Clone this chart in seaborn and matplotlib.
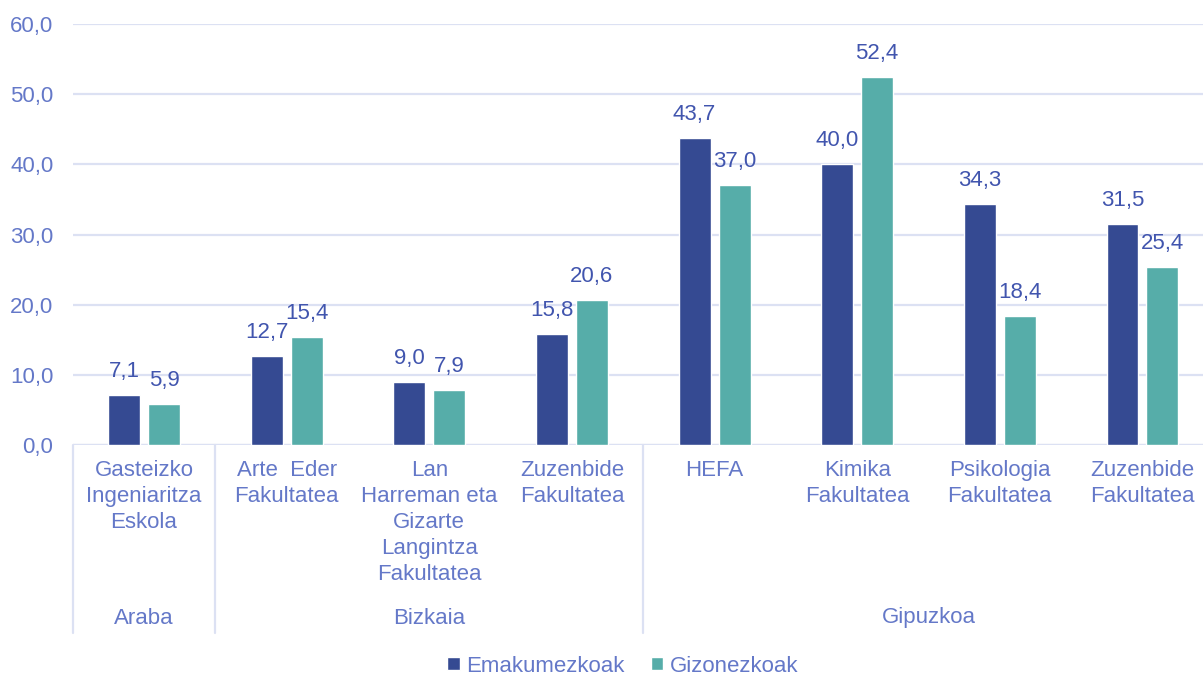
import matplotlib
matplotlib.use("Agg")
import matplotlib.pyplot as plt
import matplotlib.transforms as mtransforms
from matplotlib.patches import Patch
import seaborn as sns
import pandas as pd

# ---- data ----
groups = ["Araba", "Bizkaia", "Bizkaia", "Bizkaia",
          "Gipuzkoa", "Gipuzkoa", "Gipuzkoa", "Gipuzkoa"]
categories = ["Gasteizko\nIngeniaritza\nEskola",
              "Arte  Eder\nFakultatea",
              "Lan\nHarreman eta\nGizarte\nLangintza\nFakultatea",
              "Zuzenbide\nFakultatea",
              "HEFA",
              "Kimika\nFakultatea",
              "Psikologia\nFakultatea",
              "Zuzenbide\nFakultatea"]
emakumezkoak = [7.1, 12.7, 9.0, 15.8, 43.7, 40.0, 34.3, 31.5]
gizonezkoak = [5.9, 15.4, 7.9, 20.6, 37.0, 52.4, 18.4, 25.4]
series_names = ["Emakumezkoak", "Gizonezkoak"]
yticks = [0, 10, 20, 30, 40, 50, 60]

# ---- style ----
DARK = "#354A92"
TEAL = "#56ADA9"
TICK_C = "#6478C8"
LABEL_C = "#4155AE"
GRID_C = "#DCE1F3"
FS = 16

sns.set_theme(style="white")
plt.rcParams["font.family"] = ["Liberation Sans", "DejaVu Sans"]

keys = [f"{g}|{i}" for i, g in enumerate(groups)]
df = pd.DataFrame({
    "key": keys * 2,
    "value": emakumezkoak + gizonezkoak,
    "series": [series_names[0]] * len(keys) + [series_names[1]] * len(keys),
})

W, H = 1203, 677
fig = plt.figure(figsize=(W / 100, H / 100), dpi=100)
ax_left, ax_right, ax_top, ax_bot = 72.7, 1213.8, 24, 445
ax = fig.add_axes([ax_left / W, 1 - ax_bot / H, (ax_right - ax_left) / W, (ax_bot - ax_top) / H])

sns.barplot(data=df, x="key", y="value", hue="series", order=keys,
            hue_order=series_names, palette=[DARK, TEAL], width=0.56, gap=0.2,
            ax=ax, legend=False, saturation=1, errorbar=None)

ax.set_xlim(-0.5, len(keys) - 0.5)
ax.set_ylim(0, 60)
ax.set_yticks(yticks)
ax.set_yticklabels([f"{v:.1f}".replace(".", ",") for v in yticks],
                   color=TICK_C, fontsize=FS)
ax.tick_params(axis="y", length=0, pad=14)
ax.set_xticks([])
ax.set_xlabel("")
ax.set_ylabel("")
for s in ax.spines.values():
    s.set_visible(False)
ax.grid(axis="y", color=GRID_C, linewidth=1.6)
ax.set_axisbelow(True)
ax.axhline(0, color=GRID_C, linewidth=1.6, zorder=0.5)

# data labels
for cont in ax.containers:
    for bar in cont:
        h = bar.get_height()
        ax.annotate(f"{h:.1f}".replace(".", ","),
                    (bar.get_x() + bar.get_width() / 2, h),
                    xytext=(0, 13), textcoords="offset points",
                    ha="center", va="baseline", fontsize=FS, color=LABEL_C)

# multi-level x axis
trans = mtransforms.blended_transform_factory(ax.transData, ax.transAxes)
axh = ax_bot - ax_top
for i, cat in enumerate(categories):
    ax.text(i, -15 / axh, cat, transform=trans, ha="center", va="top",
            fontsize=FS, color=TICK_C, linespacing=1.32)

# group spans
spans = []
start = 0
for i in range(1, len(groups) + 1):
    if i == len(groups) or groups[i] != groups[start]:
        spans.append((groups[start], start, i - 1))
        start = i
sep_bottom = -(633 - ax_bot) / axh
bounds = sorted({s - 0.5 for _, s, _ in spans} | {e + 0.5 for _, _, e in spans})
for b in bounds:
    ax.plot([b, b], [0, sep_bottom], transform=trans, color=GRID_C,
            linewidth=1.6, clip_on=False)
for g, s, e in spans:
    ax.text((s + e) / 2, -(618 - ax_bot) / axh, g, transform=trans,
            ha="center", va="center", fontsize=FS, color=TICK_C)

# legend
handles = [Patch(facecolor=DARK), Patch(facecolor=TEAL)]
fig.legend(handles, series_names, loc="center", bbox_to_anchor=(623 / W, 1 - 666 / H),
           ncol=2, frameon=False, fontsize=FS, labelcolor=TICK_C,
           handlelength=0.55, handleheight=0.55, handletextpad=0.3, columnspacing=1.2)

fig.savefig("out.png", dpi=100)
